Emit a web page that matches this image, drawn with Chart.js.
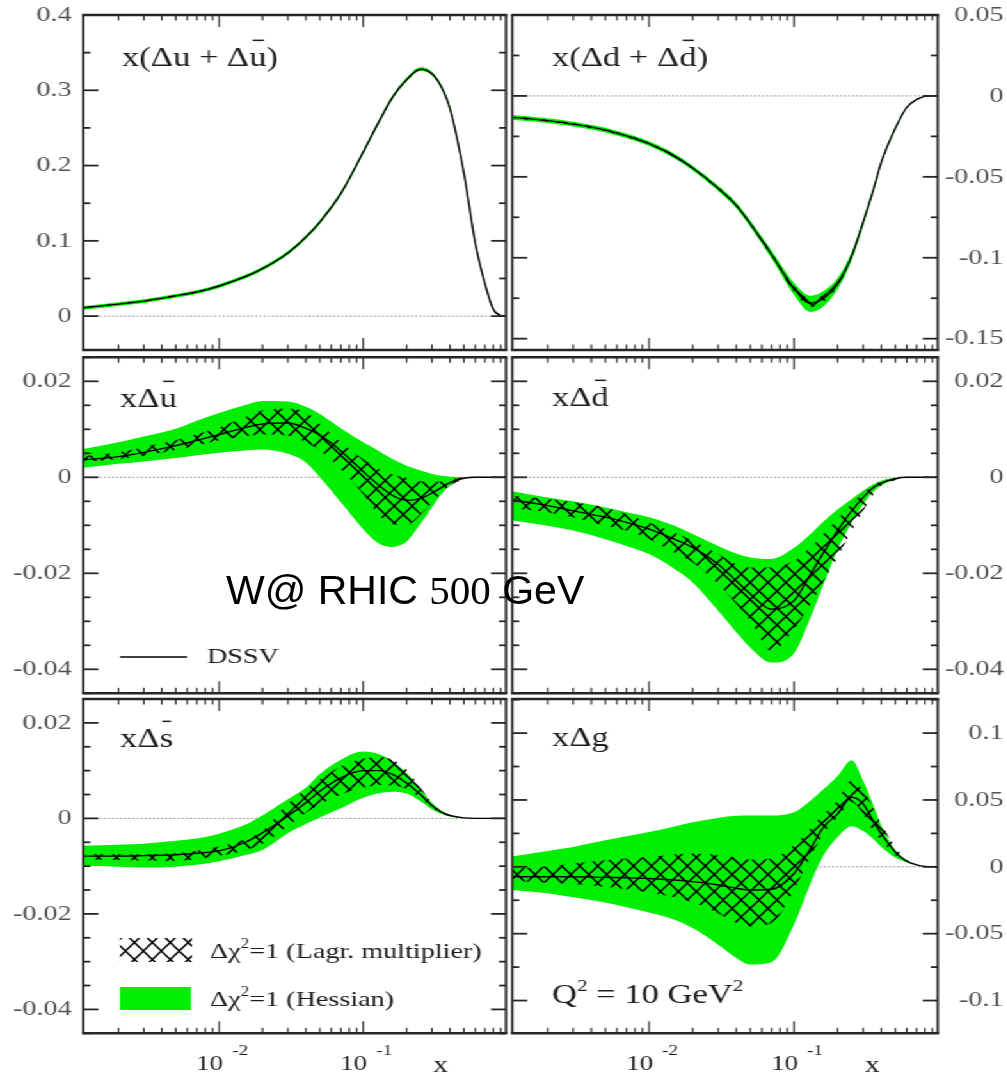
<!DOCTYPE html>
<html lang="en">
<head>
<meta charset="utf-8">
<title>DSSV helicity distributions at Q² = 10 GeV²</title>
<script src="https://cdn.jsdelivr.net/npm/chart.js@4.4.1/dist/chart.umd.min.js"></script>
<style>
  html, body { margin: 0; padding: 0; background: #fff; }
  body { position: relative; width: 1007px; height: 1075px; overflow: hidden; }
  #figure { position: absolute; left: 0; top: 0; width: 787px; height: 1075px; transform-origin: 0 0; }
  #figure canvas { position: absolute; }
  #note { position: absolute; left: 226px; top: 570px; font-family: 'Liberation Sans', Arial, sans-serif;
          font-size: 41px; line-height: 41px; color: #000; white-space: nowrap; }
  #note .num { font-family: 'Liberation Serif', 'Times New Roman', serif; }
</style>
</head>
<body>
<div id="figure"></div>
<div id="note">W@ RHIC <span class="num">500</span> GeV</div>
<script>
// ---------------------------------------------------------------------------
// Data: momentum fraction grid shared by all six distributions
// ---------------------------------------------------------------------------
const xGrid = [0.001, 0.002, 0.003, 0.005, 0.007, 0.01, 0.015, 0.02, 0.03, 0.04, 0.05, 0.07,
               0.1, 0.13, 0.16, 0.2, 0.25, 0.3, 0.35, 0.4, 0.5, 0.6, 0.7, 0.8, 0.9, 1.0];
const xMin = 0.00114;
const xMax = 0.98;
const xMajorTicks = [0.01, 0.1];
const xMajorLabels = [['10', '-2'], ['10', '-1']];

// x(Δu + Δū)
const uPlusCentral = [0.010, 0.016, 0.020, 0.027, 0.032, 0.040, 0.052, 0.063, 0.084, 0.105, 0.125, 0.163,
                      0.218, 0.260, 0.291, 0.314, 0.328, 0.322, 0.304, 0.276, 0.190, 0.097, 0.043, 0.009, 0.001, 0];
const uPlusHessHi  = [0.0125, 0.0185, 0.0225, 0.0295, 0.0345, 0.0425, 0.0545, 0.0655, 0.0865, 0.1075, 0.1275, 0.1655,
                      0.2205, 0.2625, 0.2935, 0.3165, 0.3305, 0.3245, 0.3065, 0.2785, 0.1925, 0.0995, 0.0450, 0.0105, 0.0015, 0];
const uPlusHessLo  = [0.0075, 0.0135, 0.0175, 0.0245, 0.0295, 0.0375, 0.0495, 0.0605, 0.0815, 0.1025, 0.1225, 0.1605,
                      0.2155, 0.2575, 0.2885, 0.3115, 0.3255, 0.3195, 0.3015, 0.2735, 0.1875, 0.0945, 0.0410, 0.0075, 0.0005, 0];
const uPlusLagrHi  = [0.0110, 0.0170, 0.0210, 0.0280, 0.0330, 0.0410, 0.0530, 0.0640, 0.0850, 0.1060, 0.1260, 0.1640,
                      0.2190, 0.2610, 0.2920, 0.3150, 0.3290, 0.3230, 0.3050, 0.2770, 0.1910, 0.0980, 0.0435, 0.0093, 0.0011, 0];
const uPlusLagrLo  = [0.0090, 0.0150, 0.0190, 0.0260, 0.0310, 0.0390, 0.0510, 0.0620, 0.0830, 0.1040, 0.1240, 0.1620,
                      0.2170, 0.2590, 0.2900, 0.3130, 0.3270, 0.3210, 0.3030, 0.2750, 0.1890, 0.0960, 0.0425, 0.0087, 0.0009, 0];

// x(Δd + Δd̄)
const dPlusCentral = [-0.0128, -0.0153, -0.0174, -0.0211, -0.0247, -0.0295, -0.0372, -0.0446, -0.0571, -0.0676, -0.0790, -0.0980,
                      -0.1190, -0.1280, -0.1250, -0.1160, -0.0990, -0.0780, -0.0590, -0.0410, -0.0200, -0.0070, -0.0023, -0.0003, 0, 0];
const dPlusHessHi  = [-0.0113, -0.0138, -0.0159, -0.0196, -0.0232, -0.0280, -0.0357, -0.0431, -0.0555, -0.0658, -0.0770, -0.0955,
                      -0.1155, -0.1235, -0.1205, -0.1125, -0.0965, -0.0760, -0.0575, -0.0400, -0.0193, -0.0066, -0.0021, -0.0002, 0, 0];
const dPlusHessLo  = [-0.0143, -0.0168, -0.0189, -0.0226, -0.0262, -0.0310, -0.0387, -0.0461, -0.0587, -0.0694, -0.0810, -0.1005,
                      -0.1230, -0.1335, -0.1300, -0.1195, -0.1015, -0.0800, -0.0605, -0.0420, -0.0207, -0.0074, -0.0025, -0.0004, 0, 0];
const dPlusLagrHi  = [-0.0121, -0.0146, -0.0167, -0.0204, -0.0240, -0.0288, -0.0364, -0.0438, -0.0562, -0.0666, -0.0779, -0.0966,
                      -0.1170, -0.1255, -0.1228, -0.1143, -0.0978, -0.0771, -0.0583, -0.0405, -0.0197, -0.0068, -0.0022, -0.0003, 0, 0];
const dPlusLagrLo  = [-0.0135, -0.0160, -0.0181, -0.0218, -0.0254, -0.0302, -0.0380, -0.0454, -0.0580, -0.0686, -0.0801, -0.0994,
                      -0.1210, -0.1305, -0.1272, -0.1177, -0.1002, -0.0789, -0.0597, -0.0415, -0.0203, -0.0072, -0.0024, -0.0003, 0, 0];

// xΔū
const uBarCentral = [0.0035, 0.0043, 0.0052, 0.0066, 0.0077, 0.0089, 0.0103, 0.0111, 0.0113, 0.0102, 0.0088, 0.0055,
                     0.0012, -0.0018, -0.0038, -0.0048, -0.0044, -0.0033, -0.0021, -0.0011, -0.0002, 0, 0, 0, 0, 0];
const uBarHessHi  = [0.0056, 0.0073, 0.0085, 0.0101, 0.0118, 0.0134, 0.0150, 0.0159, 0.0158, 0.0147, 0.0132, 0.0102,
                     0.0073, 0.0054, 0.0038, 0.0024, 0.0014, 0.0007, 0.0003, 0.0001, 0, 0, 0, 0, 0, 0];
const uBarHessLo  = [0.0018, 0.0028, 0.0033, 0.0040, 0.0046, 0.0051, 0.0056, 0.0058, 0.0049, 0.0031, 0.0000, -0.0052,
                     -0.0108, -0.0139, -0.0145, -0.0134, -0.0097, -0.0063, -0.0035, -0.0017, -0.0003, 0, 0, 0, 0, 0];
const uBarLagrHi  = [0.0042, 0.0052, 0.0063, 0.0077, 0.0090, 0.0104, 0.0125, 0.0139, 0.0143, 0.0136, 0.0111, 0.0073,
                     0.0038, 0.0017, 0.0006, -0.0001, -0.0008, -0.0010, -0.0008, -0.0005, 0, 0, 0, 0, 0, 0];
const uBarLagrLo  = [0.0030, 0.0038, 0.0045, 0.0057, 0.0066, 0.0077, 0.0085, 0.0089, 0.0087, 0.0073, 0.0056, 0.0017,
                     -0.0035, -0.0080, -0.0098, -0.0100, -0.0078, -0.0052, -0.0032, -0.0018, -0.0004, 0, 0, 0, 0, 0];

// xΔd̄
const dBarCentral = [-0.0045, -0.0059, -0.0070, -0.0083, -0.0094, -0.0108, -0.0129, -0.0146, -0.0181, -0.0216, -0.0243, -0.0275,
                     -0.0257, -0.0202, -0.0157, -0.0111, -0.0070, -0.0042, -0.0022, -0.0012, -0.0003, 0, 0, 0, 0, 0];
const dBarHessHi  = [-0.0026, -0.0042, -0.0050, -0.0063, -0.0073, -0.0083, -0.0101, -0.0118, -0.0143, -0.0159, -0.0167, -0.0170,
                     -0.0147, -0.0118, -0.0092, -0.0067, -0.0045, -0.0028, -0.0015, -0.0007, -0.0001, 0, 0, 0, 0, 0];
const dBarHessLo  = [-0.0087, -0.0101, -0.0111, -0.0129, -0.0143, -0.0160, -0.0191, -0.0219, -0.0278, -0.0323, -0.0355, -0.0386,
                     -0.0367, -0.0292, -0.0223, -0.0150, -0.0094, -0.0056, -0.0031, -0.0017, -0.0005, 0, 0, 0, 0, 0];
const dBarLagrHi  = [-0.0038, -0.0045, -0.0052, -0.0063, -0.0077, -0.0094, -0.0115, -0.0132, -0.0160, -0.0181, -0.0188, -0.0188,
                     -0.0174, -0.0146, -0.0118, -0.0087, -0.0056, -0.0033, -0.0017, -0.0008, -0.0002, 0, 0, 0, 0, 0];
const dBarLagrLo  = [-0.0063, -0.0073, -0.0083, -0.0101, -0.0111, -0.0129, -0.0157, -0.0177, -0.0223, -0.0264, -0.0299, -0.0362,
                     -0.0317, -0.0264, -0.0216, -0.0167, -0.0111, -0.0070, -0.0038, -0.0017, -0.0006, 0, 0, 0, 0, 0];

// xΔs̄
const sBarCentral = [-0.0079, -0.0079, -0.0078, -0.0076, -0.0073, -0.0068, -0.0051, -0.0030, 0.0005, 0.0033, 0.0057, 0.0085,
                     0.0100, 0.0100, 0.0092, 0.0074, 0.0050, 0.0027, 0.0013, 0.0006, 0.0001, 0, 0, 0, 0, 0];
const sBarHessHi  = [-0.0058, -0.0055, -0.0053, -0.0047, -0.0042, -0.0032, -0.0014, 0.0006, 0.0040, 0.0064, 0.0093, 0.0123,
                     0.0140, 0.0134, 0.0119, 0.0095, 0.0060, 0.0033, 0.0016, 0.0007, 0.0001, 0, 0, 0, 0, 0];
const sBarHessLo  = [-0.0099, -0.0101, -0.0103, -0.0101, -0.0097, -0.0090, -0.0077, -0.0066, -0.0031, -0.0012, 0.0002, 0.0021,
                     0.0043, 0.0053, 0.0056, 0.0052, 0.0036, 0.0019, 0.0009, 0.0004, 0.0001, 0, 0, 0, 0, 0];
const sBarLagrHi  = [-0.0075, -0.0075, -0.0075, -0.0073, -0.0068, -0.0059, -0.0044, -0.0026, 0.0031, 0.0060, 0.0081, 0.0109,
                     0.0125, 0.0128, 0.0123, 0.0102, 0.0064, 0.0033, 0.0015, 0.0007, 0.0001, 0, 0, 0, 0, 0];
const sBarLagrLo  = [-0.0085, -0.0087, -0.0088, -0.0089, -0.0085, -0.0078, -0.0067, -0.0053, -0.0016, 0.0012, 0.0029, 0.0050,
                     0.0064, 0.0070, 0.0069, 0.0062, 0.0043, 0.0022, 0.0011, 0.0005, 0.0001, 0, 0, 0, 0, 0];

// xΔg
const gluonCentral = [-0.0074, -0.0074, -0.0074, -0.0079, -0.0082, -0.0087, -0.0099, -0.0111, -0.0136, -0.0161, -0.0173, -0.0168,
                      -0.0050, 0.0136, 0.0297, 0.0396, 0.0520, 0.0470, 0.0347, 0.0248, 0.0111, 0.0042, 0.0015, 0.0002, 0, 0];
const gluonHessHi  = [0.0069, 0.0119, 0.0149, 0.0198, 0.0228, 0.0260, 0.0302, 0.0334, 0.0366, 0.0381, 0.0384, 0.0384,
                      0.0408, 0.0495, 0.0582, 0.0680, 0.0797, 0.0644, 0.0470, 0.0309, 0.0124, 0.0050, 0.0017, 0.0002, 0, 0];
const gluonHessLo  = [-0.0168, -0.0198, -0.0228, -0.0267, -0.0302, -0.0342, -0.0396, -0.0458, -0.0582, -0.0681, -0.0730, -0.0713,
                      -0.0433, -0.0124, 0.0087, 0.0223, 0.0304, 0.0267, 0.0210, 0.0149, 0.0069, 0.0032, 0.0012, 0.0002, 0, 0];
const gluonLagrHi  = [-0.0020, 0.0005, 0.0025, 0.0050, 0.0062, 0.0074, 0.0092, 0.0099, 0.0087, 0.0069, 0.0054, 0.0062,
                      0.0161, 0.0285, 0.0396, 0.0495, 0.0649, 0.0569, 0.0446, 0.0322, 0.0149, 0.0054, 0.0017, 0.0002, 0, 0];
const gluonLagrLo  = [-0.0104, -0.0119, -0.0129, -0.0149, -0.0168, -0.0193, -0.0228, -0.0267, -0.0347, -0.0421, -0.0446, -0.0421,
                      -0.0173, 0.0074, 0.0248, 0.0371, 0.0483, 0.0396, 0.0272, 0.0198, 0.0087, 0.0037, 0.0012, 0.0002, 0, 0];

// Labelled y ticks of each panel
const uPlusTicks = [0, 0.1, 0.2, 0.3, 0.4];
const dPlusTicks = [-0.15, -0.1, -0.05, 0, 0.05];
const seaTicks = [-0.04, -0.02, 0, 0.02];
const gluonTicks = [-0.1, -0.05, 0, 0.05, 0.1];

// ---------------------------------------------------------------------------
// Styling and layout
// ---------------------------------------------------------------------------
const STRETCH = 1.28;                 // horizontal stretch of the whole figure
const SERIF = "'Liberation Serif', 'Times New Roman', serif";
const GREEN = 'rgb(0, 238, 0)';
const INK = '#262626';
const TEXT = '#1c1c1c';
const TICK_TEXT = '#505050';

document.getElementById('figure').style.transform = 'scaleX(' + STRETCH + ')';

const COLS = [
  { left: 0,   width: 398, axisWidth: 65.08, padLeft: 0,    padRight: 2.69, side: 'left'  },
  { left: 397, width: 387, axisWidth: 51.42, padLeft: 3.23, padRight: 0,    side: 'right' }
];
const ROWS = [
  { top: 0,   height: 354, padTop: 15,  padBottom: 4    },
  { top: 353, height: 344, padTop: 4.3, padBottom: 3.7  },
  { top: 696, height: 379, padTop: 3,   padBottom: 41.7 }
];

const panels = [
  { col: 0, row: 0, yMin: -0.045, yMax: 0.4, yMajor: 0.1, yMinor: 0.05, yTicks: uPlusTicks,
    central: uPlusCentral, hessHi: uPlusHessHi, hessLo: uPlusHessLo, lagrHi: uPlusLagrHi, lagrLo: uPlusLagrLo,
    title: [{ t: 'x(Δu + Δ' }, { t: 'u', bar: true }, { t: ')' }], titleAt: [30.2, 51] },
  { col: 1, row: 0, yMin: -0.157, yMax: 0.05, yMajor: 0.05, yMinor: 0.025, yTicks: dPlusTicks,
    central: dPlusCentral, hessHi: dPlusHessHi, hessLo: dPlusHessLo, lagrHi: dPlusLagrHi, lagrLo: dPlusLagrLo,
    title: [{ t: 'x(Δd + Δ' }, { t: 'd', bar: true }, { t: ')' }], titleAt: [31, 51] },
  { col: 0, row: 1, yMin: -0.045, yMax: 0.025, yMajor: 0.02, yMinor: 0.005, yTicks: seaTicks,
    central: uBarCentral, hessHi: uBarHessHi, hessLo: uBarHessLo, lagrHi: uBarLagrHi, lagrLo: uBarLagrLo,
    title: [{ t: 'xΔ' }, { t: 'u', bar: true }], titleAt: [28.7, 49.7], extra: 'dssvKey' },
  { col: 1, row: 1, yMin: -0.045, yMax: 0.025, yMajor: 0.02, yMinor: 0.005, yTicks: seaTicks,
    central: dBarCentral, hessHi: dBarHessHi, hessLo: dBarHessLo, lagrHi: dBarLagrHi, lagrLo: dBarLagrLo,
    title: [{ t: 'xΔ' }, { t: 'd', bar: true }], titleAt: [31, 48.7] },
  { col: 0, row: 2, yMin: -0.045, yMax: 0.025, yMajor: 0.02, yMinor: 0.005, yTicks: seaTicks,
    central: sBarCentral, hessHi: sBarHessHi, hessLo: sBarHessLo, lagrHi: sBarLagrHi, lagrLo: sBarLagrLo,
    title: [{ t: 'xΔ' }, { t: 's', bar: true }], titleAt: [28.7, 48], extra: 'bandKey' },
  { col: 1, row: 2, yMin: -0.1245, yMax: 0.1255, yMajor: 0.05, yMinor: 0.025, yTicks: gluonTicks,
    central: gluonCentral, hessHi: gluonHessHi, hessLo: gluonHessLo, lagrHi: gluonLagrHi, lagrLo: gluonLagrLo,
    title: [{ t: 'xΔg' }], titleAt: [31, 47], extra: 'scaleNote' }
];

// ---------------------------------------------------------------------------
// Helpers
// ---------------------------------------------------------------------------
function toPoints(values) {
  return xGrid.map((x, i) => ({ x: x, y: values[i] }));
}

function formatTick(v) {
  const r = +v.toFixed(4);
  return r === 0 ? '0' : String(r);
}

// Cross-hatch tile for the Lagrange-multiplier band
function makeHatch(ctx) {
  const w = 14, h = 17;
  const tile = document.createElement('canvas');
  tile.width = w; tile.height = h;
  const g = tile.getContext('2d');
  g.strokeStyle = '#000';
  g.lineWidth = 1.45;
  g.beginPath();
  for (const dx of [-w, 0, w]) {
    g.moveTo(dx - 0.2 * w, -0.2 * h); g.lineTo(dx + 1.2 * w, 1.2 * h);
    g.moveTo(dx + 1.2 * w, -0.2 * h); g.lineTo(dx - 0.2 * w, 1.2 * h);
  }
  g.stroke();
  return ctx.createPattern(tile, 'repeat');
}

function seg(ctx, x1, y1, x2, y2) {
  ctx.beginPath(); ctx.moveTo(x1, y1); ctx.lineTo(x2, y2); ctx.stroke();
}

// Draws a run of text pieces; pieces may be superscripts or carry an overbar.
function drawRich(ctx, x, y, parts, size, color) {
  ctx.fillStyle = color;
  ctx.strokeStyle = color;
  ctx.textBaseline = 'alphabetic';
  ctx.textAlign = 'left';
  for (const part of parts) {
    const fs = part.sup ? size * 0.62 : size;
    ctx.font = fs + 'px ' + SERIF;
    const w = ctx.measureText(part.t).width;
    ctx.fillText(part.t, x, part.sup ? y - size * 0.44 : y);
    if (part.bar) {
      ctx.lineWidth = 1.5;
      seg(ctx, x + w * 0.2, y - size * 0.95, x + w * 0.85, y - size * 0.95);
    }
    x += w;
  }
  return x;
}

// Panel frame, inward ticks, titles and keys
function panelDecor(p, hatch) {
  return {
    id: 'panelDecor',
    beforeDatasetsDraw(chart) {
      const { ctx, chartArea: a, scales: { y } } = chart;
      const y0 = y.getPixelForValue(0);
      ctx.save();
      ctx.strokeStyle = '#8c8c8c';
      ctx.lineWidth = 1;
      ctx.setLineDash([1.6, 1.6]);
      seg(ctx, a.left, y0, a.right, y0);
      ctx.restore();
    },
    afterDraw(chart) {
      const { ctx, chartArea: a, scales: { x, y } } = chart;
      ctx.save();
      ctx.strokeStyle = INK;
      ctx.lineCap = 'butt';

      // x ticks (log decades), on top and bottom edges
      ctx.lineWidth = 1.5 / STRETCH;
      for (let d = -3; d <= 0; d++) {
        for (let k = 1; k <= 9; k++) {
          const v = k * Math.pow(10, d);
          if (v <= xMin || v >= xMax) continue;
          const px = x.getPixelForValue(v);
          const len = k === 1 ? 12 : 5.5;
          seg(ctx, px, a.bottom, px, a.bottom - len);
          seg(ctx, px, a.top, px, a.top + len);
        }
      }

      // y ticks, on left and right edges
      ctx.lineWidth = 1.8;
      const n0 = Math.ceil(p.yMin / p.yMinor - 1e-9);
      const n1 = Math.floor(p.yMax / p.yMinor + 1e-9);
      for (let n = n0; n <= n1; n++) {
        const v = n * p.yMinor;
        const r = v / p.yMajor;
        const major = Math.abs(r - Math.round(r)) < 1e-6;
        const len = (major ? 15 : 7) / STRETCH;
        const py = y.getPixelForValue(v);
        seg(ctx, a.left, py, a.left + len, py);
        seg(ctx, a.right, py, a.right - len, py);
      }

      // frame
      ctx.lineWidth = 2.4;
      seg(ctx, a.left - 1, a.top, a.right + 1, a.top);
      seg(ctx, a.left - 1, a.bottom, a.right + 1, a.bottom);
      ctx.lineWidth = 2.4 / STRETCH;
      seg(ctx, a.left, a.top, a.left, a.bottom);
      seg(ctx, a.right, a.top, a.right, a.bottom);

      // panel title
      drawRich(ctx, a.left + p.titleAt[0], a.top + p.titleAt[1], p.title, 27, TEXT);

      // bottom row: decade labels and axis name
      if (p.row === 2) {
        xMajorTicks.forEach((v, i) => {
          const px = x.getPixelForValue(v);
          ctx.fillStyle = TEXT;
          ctx.textBaseline = 'alphabetic';
          ctx.font = '21px ' + SERIF;
          ctx.textAlign = 'right';
          ctx.fillText(xMajorLabels[i][0], px + 3.1, a.bottom + 36.7);
          ctx.font = '15px ' + SERIF;
          ctx.textAlign = 'left';
          ctx.fillText(xMajorLabels[i][1], px + 10.2, a.bottom + 21.7);
        });
        ctx.font = '23px ' + SERIF;
        ctx.textAlign = 'center';
        ctx.fillText('x', a.right - 51, a.bottom + 38.7);
      }

      if (p.extra === 'dssvKey') {
        ctx.strokeStyle = '#000';
        ctx.lineWidth = 1.5;
        seg(ctx, a.left + 28.7, a.top + 299.7, a.left + 81, a.top + 299.7);
        drawRich(ctx, a.left + 96.6, a.top + 305.7, [{ t: 'DSSV' }], 22, TEXT);
      }
      if (p.extra === 'bandKey') {
        ctx.fillStyle = hatch;
        ctx.fillRect(a.left + 28.7, a.top + 239, 56.2, 24);
        ctx.fillStyle = GREEN;
        ctx.fillRect(a.left + 28.7, a.top + 288, 55.4, 23);
        drawRich(ctx, a.left + 98.9, a.top + 259,
          [{ t: 'Δχ' }, { t: '2', sup: true }, { t: '=1 (Lagr. multiplier)' }], 22, TEXT);
        drawRich(ctx, a.left + 98.9, a.top + 307,
          [{ t: 'Δχ' }, { t: '2', sup: true }, { t: '=1 (Hessian)' }], 22, TEXT);
      }
      if (p.extra === 'scaleNote') {
        drawRich(ctx, a.left + 31, a.top + 304,
          [{ t: 'Q' }, { t: '2', sup: true }, { t: ' = 10 GeV' }, { t: '2', sup: true }], 27, TEXT);
      }
      ctx.restore();
    }
  };
}

// ---------------------------------------------------------------------------
// Build the six panels
// ---------------------------------------------------------------------------
const figure = document.getElementById('figure');

panels.forEach(p => {
  const col = COLS[p.col], row = ROWS[p.row];
  const canvas = document.createElement('canvas');
  canvas.width = col.width;
  canvas.height = row.height;
  canvas.style.left = col.left + 'px';
  canvas.style.top = row.top + 'px';
  canvas.style.width = col.width + 'px';
  canvas.style.height = row.height + 'px';
  figure.appendChild(canvas);
  const ctx = canvas.getContext('2d');
  const hatch = makeHatch(ctx);

  const common = { pointRadius: 0, cubicInterpolationMode: 'monotone', borderColor: 'rgba(0,0,0,0)', borderWidth: 0 };

  new Chart(ctx, {
    type: 'line',
    data: {
      datasets: [
        Object.assign({ label: 'Hessian lower', data: toPoints(p.hessLo), fill: false, order: 4 }, common),
        Object.assign({ label: 'Δχ²=1 (Hessian)', data: toPoints(p.hessHi), fill: 0, backgroundColor: GREEN, order: 3 }, common),
        Object.assign({ label: 'Lagrange lower', data: toPoints(p.lagrLo), fill: false, order: 2 }, common),
        Object.assign({ label: 'Δχ²=1 (Lagr. multiplier)', data: toPoints(p.lagrHi), fill: 2, backgroundColor: hatch, order: 1 }, common),
        { label: 'DSSV', data: toPoints(p.central), fill: false, order: 0, pointRadius: 0,
          cubicInterpolationMode: 'monotone', borderColor: '#000', borderWidth: 1.4 }
      ]
    },
    options: {
      responsive: false,
      animation: false,
      devicePixelRatio: 1,
      events: [],
      layout: {
        autoPadding: false,
        padding: { left: col.padLeft, right: col.padRight, top: row.padTop, bottom: row.padBottom }
      },
      plugins: { legend: { display: false }, tooltip: { enabled: false }, title: { display: false } },
      scales: {
        x: {
          type: 'logarithmic', min: xMin, max: xMax, display: false,
          afterFit: s => { s.paddingLeft = 0; s.paddingRight = 0; }
        },
        y: {
          type: 'linear', position: col.side, min: p.yMin, max: p.yMax,
          grid: { display: false, drawTicks: false },
          border: { display: false },
          afterBuildTicks: s => { s.ticks = p.yTicks.map(v => ({ value: v })); },
          afterFit: s => { s.width = col.axisWidth; s.paddingTop = 0; s.paddingBottom = 0; },
          ticks: {
            autoSkip: false,
            color: TICK_TEXT,
            font: { family: SERIF, size: 22 },
            padding: col.side === 'left' ? 9 : 0,
            crossAlign: col.side === 'left' ? 'near' : 'far',
            callback: v => formatTick(v)
          }
        }
      }
    },
    plugins: [panelDecor(p, hatch)]
  });
});
</script>
</body>
</html>
